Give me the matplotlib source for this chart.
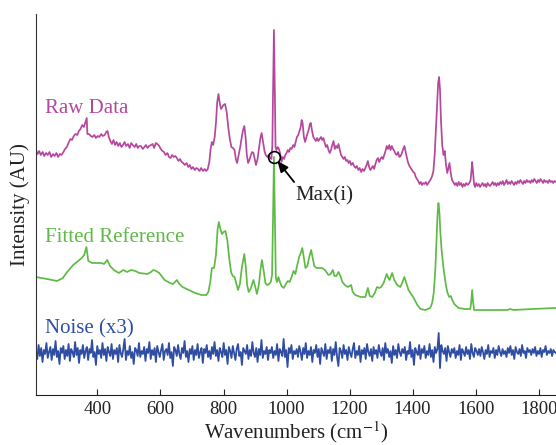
import matplotlib
matplotlib.use('Agg')
import matplotlib.pyplot as plt
import numpy as np

# ---------------- data (wavenumber, intensity AU) ----------------
fitted_points = [
    (205, 118), (240, 116), (272, 114), (290, 117), (304, 123), (323, 130), (339, 134),
    (350, 137), (358, 140), (365, 148), (371, 134), (383, 132), (400, 132), (412, 132),
    (421, 131), (431, 135), (440, 129), (452, 125), (468, 122), (482, 125), (494, 123),
    (507, 125), (520, 124), (533, 122), (558, 121), (570, 123), (577, 125), (586, 124),
    (596, 122), (613, 115), (630, 112), (640, 111), (652, 115), (660, 111), (670, 108),
    (690, 105), (710, 102), (730, 100), (745, 100), (752, 103), (758, 113), (763, 127),
    (770, 127), (776, 140), (781, 165), (785, 173), (790, 166), (795, 161), (800, 163),
    (806, 164), (812, 155), (818, 137), (824, 123), (829, 119), (835, 118), (840, 112),
    (846, 105), (852, 111), (858, 127), (866, 141), (871, 127), (875, 110), (880, 103),
    (887, 107), (895, 115), (900, 109), (906, 101), (912, 110), (918, 127), (922, 135),
    (928, 123), (933, 112), (938, 110), (945, 111), (950, 113), (954, 120), (957, 175),
    (960, 238), (963, 175), (966, 117), (970, 113), (974, 118), (979, 113), (984, 109),
    (991, 107), (998, 111), (1004, 114), (1010, 113), (1016, 118), (1022, 124), (1028, 121),
    (1034, 130), (1040, 138), (1045, 142), (1050, 147), (1055, 137), (1060, 127), (1066, 129),
    (1072, 138), (1078, 145), (1083, 137), (1088, 129), (1095, 127), (1105, 127), (1113, 127),
    (1122, 125), (1133, 120), (1140, 121), (1147, 125), (1152, 119), (1158, 119), (1165, 123),
    (1171, 119), (1177, 113), (1185, 110), (1194, 108), (1200, 109), (1205, 110), (1210, 103),
    (1218, 100), (1235, 98), (1250, 98), (1258, 107), (1264, 99), (1272, 98), (1280, 102),
    (1287, 108), (1294, 107), (1300, 108), (1308, 112), (1318, 121), (1323, 117), (1327, 115),
    (1335, 122), (1342, 115), (1351, 110), (1361, 108), (1368, 113), (1374, 118), (1380, 112),
    (1387, 105), (1395, 101), (1402, 98), (1410, 93), (1415, 90), (1425, 86), (1440, 85),
    (1456, 87), (1462, 92), (1467, 102), (1472, 125), (1476, 155), (1479, 180), (1482, 192),
    (1485, 183), (1488, 163), (1492, 145), (1498, 127), (1505, 111), (1510, 103), (1516, 98),
    (1521, 99), (1526, 95), (1532, 91), (1546, 87), (1565, 86), (1583, 86), (1586, 93),
    (1589, 105), (1592, 93), (1595, 85), (1650, 85), (1700, 85), (1710, 86), (1720, 85),
    (1780, 86), (1853, 87),
]

raw_points = [
    (205, 245), (210, 241), (215, 244), (220, 240), (226, 243), (231, 239), (237, 242),
    (242, 240), (248, 243), (253, 238), (259, 241), (264, 239), (270, 242), (275, 238),
    (281, 241), (286, 240), (292, 243), (297, 246), (303, 248), (308, 252), (314, 256),
    (319, 255), (325, 259), (330, 261), (336, 260), (341, 264), (346, 266), (352, 270),
    (357, 268), (362, 273), (366, 277), (368, 261), (373, 261), (379, 259), (384, 258),
    (390, 260), (395, 257), (401, 259), (406, 258), (412, 261), (417, 259), (423, 260),
    (428, 263), (432, 264), (436, 258), (441, 254), (446, 251), (451, 255), (456, 250),
    (461, 253), (466, 249), (471, 252), (476, 248), (481, 250), (486, 253), (491, 249),
    (497, 251), (502, 247), (507, 252), (512, 250), (518, 248), (523, 251), (528, 247),
    (533, 249), (538, 249), (544, 246), (549, 248), (554, 250), (559, 247), (564, 249),
    (570, 250), (575, 251), (580, 247), (585, 252), (590, 251), (596, 249), (601, 246),
    (606, 244), (611, 243), (616, 240), (622, 242), (627, 238), (632, 237), (637, 240),
    (642, 238), (647, 239), (652, 237), (657, 234), (662, 236), (667, 233), (672, 232),
    (677, 230), (683, 232), (688, 228), (693, 230), (698, 226), (703, 228), (709, 225),
    (714, 227), (719, 226), (724, 224), (729, 227), (735, 224), (740, 226), (745, 224),
    (750, 226), (755, 233), (759, 246), (763, 253), (767, 250), (772, 258), (776, 272),
    (780, 293), (784, 301), (788, 292), (792, 286), (796, 288), (800, 290), (805, 291),
    (810, 283), (815, 268), (820, 256), (825, 248), (830, 247), (835, 245), (839, 236),
    (843, 232), (848, 240), (853, 248), (858, 258), (862, 265), (866, 269), (870, 258),
    (874, 240), (878, 232), (882, 235), (887, 240), (891, 243), (895, 242), (899, 236),
    (903, 230), (908, 236), (913, 248), (917, 257), (921, 262), (925, 254), (930, 244),
    (934, 240), (939, 238), (943, 240), (948, 237), (952, 236), (955, 250), (957, 300),
    (960, 365), (963, 300), (965, 248), (968, 245), (972, 248), (976, 246), (980, 241),
    (984, 233), (988, 238), (992, 236), (996, 240), (1000, 242), (1004, 245), (1008, 243),
    (1012, 247), (1016, 246), (1021, 250), (1025, 248), (1029, 253), (1033, 258), (1037, 260),
    (1041, 264), (1045, 268), (1048, 275), (1051, 272), (1055, 258), (1059, 253), (1063, 258),
    (1067, 262), (1071, 266), (1074, 271), (1077, 272), (1081, 264), (1085, 258), (1089, 256),
    (1093, 254), (1097, 257), (1101, 254), (1105, 256), (1109, 258), (1113, 255), (1117, 257),
    (1121, 252), (1125, 248), (1129, 250), (1133, 245), (1137, 242), (1141, 245), (1145, 250),
    (1149, 254), (1153, 246), (1157, 249), (1161, 247), (1165, 251), (1169, 245), (1173, 240),
    (1177, 238), (1181, 236), (1185, 238), (1189, 234), (1193, 235), (1197, 232), (1201, 234),
    (1205, 230), (1210, 232), (1214, 229), (1219, 227), (1223, 229), (1228, 225), (1232, 227),
    (1237, 223), (1241, 226), (1246, 224), (1250, 227), (1254, 230), (1258, 234), (1262, 228),
    (1266, 225), (1270, 227), (1274, 229), (1278, 226), (1282, 231), (1286, 235), (1290, 237),
    (1294, 233), (1298, 236), (1302, 238), (1306, 236), (1310, 240), (1314, 244), (1318, 249),
    (1322, 246), (1326, 250), (1330, 245), (1334, 249), (1338, 246), (1342, 244), (1346, 241),
    (1350, 240), (1354, 243), (1358, 238), (1362, 239), (1366, 242), (1370, 246), (1374, 249),
    (1378, 243), (1382, 237), (1386, 232), (1390, 229), (1394, 227), (1398, 225), (1402, 223),
    (1406, 222), (1410, 218), (1414, 216), (1418, 214), (1422, 211), (1426, 213), (1430, 210),
    (1434, 212), (1438, 211), (1442, 213), (1446, 210), (1450, 212), (1454, 214), (1458, 216),
    (1462, 219), (1466, 224), (1470, 240), (1474, 265), (1478, 292), (1481, 312), (1484, 318),
    (1487, 305), (1490, 275), (1494, 250), (1498, 240), (1502, 244), (1506, 230), (1510, 222),
    (1514, 228), (1517, 232), (1521, 222), (1525, 215), (1529, 213), (1534, 210), (1538, 212),
    (1542, 209), (1546, 213), (1550, 210), (1554, 212), (1558, 208), (1562, 211), (1566, 209),
    (1570, 212), (1575, 210), (1580, 212), (1584, 215), (1587, 225), (1589, 233), (1592, 222),
    (1595, 211), (1598, 208), (1602, 212), (1606, 209), (1610, 211), (1614, 208), (1618, 210),
    (1622, 212), (1626, 209), (1630, 211), (1634, 208), (1638, 212), (1642, 210), (1646, 209),
    (1650, 211), (1654, 213), (1658, 210), (1662, 212), (1666, 209), (1670, 212), (1674, 210),
    (1678, 213), (1682, 211), (1686, 214), (1690, 210), (1694, 212), (1698, 215), (1702, 211),
    (1706, 213), (1710, 211), (1714, 214), (1718, 212), (1722, 210), (1726, 213), (1730, 211),
    (1734, 214), (1738, 212), (1742, 215), (1746, 213), (1750, 211), (1754, 214), (1758, 212),
    (1762, 215), (1766, 213), (1770, 214), (1774, 212), (1778, 215), (1782, 213), (1786, 216),
    (1790, 214), (1794, 212), (1798, 215), (1802, 213), (1806, 216), (1810, 214), (1814, 212),
    (1818, 215), (1822, 213), (1826, 214), (1830, 212), (1834, 215), (1838, 213), (1842, 214),
    (1846, 212), (1850, 214), (1855, 213),
]

noise_values = [
    44, 36, 50, 39, 47, 33, 45, 41, 52, 37, 43, 48, 35, 46, 40, 54, 38, 44, 31, 47,
    42, 49, 36, 45, 39, 51, 34, 46, 43, 38, 53, 40, 47, 32, 45, 41, 50, 37, 44, 48,
    35, 46, 42, 55, 38, 43, 30, 49, 41, 45, 37, 52, 40, 46, 34, 48, 43, 39, 51, 36,
    45, 41, 47, 33, 50, 42, 38, 46, 56, 35, 44, 40, 49, 37, 43, 31, 47, 45, 39, 52,
    38, 44, 41, 48, 34, 46, 42, 53, 36, 45, 40, 47, 33, 49, 43, 38, 45, 51, 35, 44,
    46, 40, 52, 37, 43, 29, 48, 45, 39, 50, 41, 36, 47, 42, 54, 38, 44, 33, 46, 41,
    49, 35, 45, 40, 51, 37, 43, 47, 32, 46, 42, 50, 38, 44, 36, 48, 41, 53, 39, 45,
    34, 47, 43, 38, 52, 40, 45, 31, 48, 44, 37, 49, 42, 35, 46, 51, 39, 43, 30, 47,
    44, 41, 50, 36, 45, 39, 53, 42, 38, 47, 33, 46, 40, 55, 37, 44, 41, 48, 35, 45,
    42, 48, 37, 44, 40, 51, 34, 46, 43, 39, 56, 38, 45, 28, 47, 42, 50, 36, 44, 41,
    46, 38, 49, 43, 35, 47, 41, 52, 37, 44, 40, 48, 33, 45, 42, 50, 38, 46, 31, 47,
    43, 39, 51, 36, 45, 42, 48, 34, 46, 40, 53, 38, 29, 47, 44, 37, 50, 41, 45, 35,
    48, 42, 38, 46, 52, 37, 44, 40, 49, 33, 45, 41, 47, 36, 51, 43, 39, 46, 34, 48,
    41, 45, 37, 50, 43, 39, 47, 35, 52, 42, 46, 38, 44, 32, 49, 40, 45, 37, 51, 43,
    39, 46, 42, 48, 35, 44, 41, 53, 38, 45, 30, 47, 43, 40, 50, 36, 46, 42, 49, 37,
    44, 40, 51, 38, 45, 33, 48, 42, 46, 62, 27, 50, 44, 41, 47, 34, 49, 43, 38, 46,
    42, 47, 37, 44, 40, 50, 35, 46, 43, 39, 48, 41, 45, 36, 51, 42, 38, 47, 44, 40,
    46, 39, 48, 43, 36, 45, 41, 50, 38, 44, 42, 47, 37, 45, 40, 49, 43, 39, 46, 41,
    44, 38, 47, 42, 49, 40, 45, 36, 48, 43, 41, 46, 39, 50, 42, 44, 37, 47, 43, 45,
    40, 46, 42, 48, 39, 44, 41, 47, 38, 45, 43, 49, 40, 44, 42, 46, 39, 45, 43, 42,
]

x_ticks = [400, 600, 800, 1000, 1200, 1400, 1600, 1800]
max_point = (960, 238)

# ---------------- styling ----------------
plt.rcParams['font.family'] = ['Liberation Serif', 'DejaVu Serif']
plt.rcParams['mathtext.fontset'] = 'stix'

c_raw = '#B5479E'
c_fit = '#5DBB45'
c_noise = '#2F4EA3'

fig = plt.figure(figsize=(5.56, 4.45), dpi=100)
ax = fig.add_axes([36 / 556, 50 / 445, 520 / 556, 381 / 445])

fw, fi = zip(*fitted_points)
rw, ri = zip(*raw_points)
nw = np.linspace(205, 1855, len(noise_values))

ax.plot(rw, ri, color=c_raw, lw=1.25)
ax.plot(fw, fi, color=c_fit, lw=1.25)
ax.plot(nw, noise_values, color=c_noise, lw=1.3)

ax.plot([max_point[0]], [max_point[1]], 'o', mfc='none', mec='black', ms=8.5, mew=1.2)
ax.annotate('', xy=(971, 234), xytext=(1024, 213),
            arrowprops=dict(arrowstyle='-|>,head_length=0.65,head_width=0.28',
                            color='black', lw=1.3, shrinkA=0, shrinkB=0))
ax.text(1027, 195, 'Max(i)', fontsize=15, color='#222222', va='baseline', ha='left')

ax.text(234, 282, 'Raw Data', fontsize=15, color=c_raw, va='baseline', ha='left')
ax.text(234, 153, 'Fitted Reference', fontsize=15, color=c_fit, va='baseline', ha='left')
ax.text(234, 62, 'Noise (x3)', fontsize=15, color=c_noise, va='baseline', ha='left')

ax.set_xlim(205, 1855)
ax.set_ylim(0, 381)
ax.spines['top'].set_visible(False)
ax.spines['right'].set_visible(False)
ax.spines['left'].set_color('#333333')
ax.spines['bottom'].set_color('#222222')
ax.set_yticks([])
ax.set_xticks(x_ticks)
ax.tick_params(axis='x', direction='in', length=4, labelsize=13.5, pad=4, colors='#222222')
ax.set_xlabel('Wavenumbers (cm$^{-1}$)', fontsize=15, labelpad=1.5, color='#222222')
ax.set_ylabel('Intensity (AU)', fontsize=15, color='#222222')
ax.yaxis.set_label_coords(-0.012, 0.5)

fig.savefig('out.png', dpi=100)
